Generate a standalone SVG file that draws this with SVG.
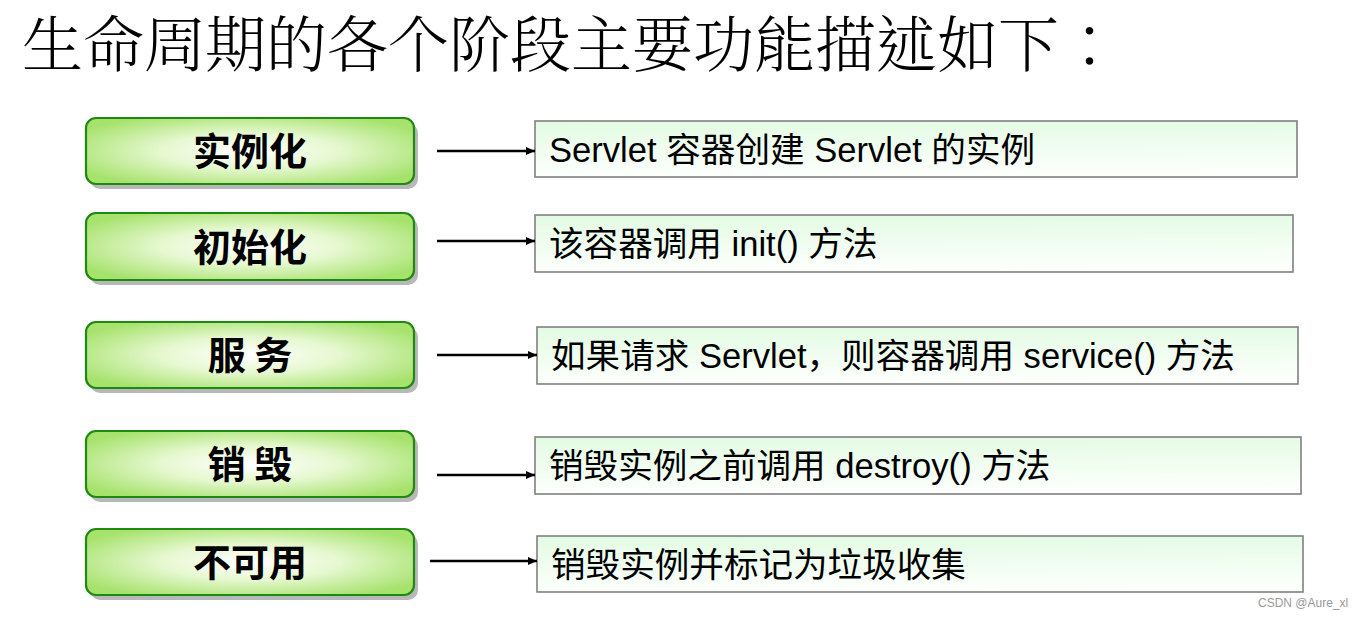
<svg xmlns="http://www.w3.org/2000/svg" width="1363" height="618" viewBox="0 0 1363 618">
<defs>
<radialGradient id="gl" cx="0.5" cy="0.5" r="0.6">
<stop offset="0" stop-color="#ffffff"/>
<stop offset="0.45" stop-color="#e6f8d0"/>
<stop offset="1" stop-color="#a6e26c"/>
</radialGradient>
<linearGradient id="gr" x1="0" y1="0" x2="0.1" y2="1">
<stop offset="0" stop-color="#e2fbe2"/>
<stop offset="1" stop-color="#fdfffd"/>
</linearGradient>
<marker id="ah" markerWidth="10" markerHeight="10" refX="9" refY="5" orient="auto" markerUnits="userSpaceOnUse">
<path d="M0,1 L9,5 L0,9 Z" fill="#000"/>
</marker>
</defs>
<style>
.shadow{fill:#b8b8b8;}
.lbox{fill:url(#gl);stroke:#1e8a12;stroke-width:2.2;}
.rbox{fill:url(#gr);stroke:#808080;stroke-width:1.6;}
.ltxt{font-family:"Noto Sans CJK SC",sans-serif;font-weight:bold;font-size:38px;fill:#000;text-anchor:middle;}
.rtxt{font-family:"Liberation Sans","Noto Sans CJK SC",sans-serif;font-size:34.6px;fill:#000;}
.title{font-family:"Liberation Serif","Noto Serif CJK TC","Noto Sans CJK TC",serif;font-size:61px;font-weight:300;fill:#000;}
.conn line{stroke:#000;stroke-width:2.5;marker-end:url(#ah);}
.wm{font-family:"Liberation Sans",sans-serif;font-size:12px;fill:#999;}
</style>
<rect width="1363" height="618" fill="#fff"/>
<text class="title" x="22" y="67">生命周期的各个阶段主要功能描述如下：</text>

<g id="n1">
<rect class="shadow" x="90" y="123" width="328" height="66" rx="10"/>
<rect class="lbox" x="86" y="118" width="328" height="66" rx="10"/>
<text class="ltxt" x="250" y="165">实例化</text>
</g>
<g id="n2">
<rect class="shadow" x="90" y="218" width="328" height="67" rx="10"/>
<rect class="lbox" x="86" y="213" width="328" height="67" rx="10"/>
<text class="ltxt" x="250" y="261">初始化</text>
</g>
<g id="n3">
<rect class="shadow" x="90" y="327" width="328" height="66" rx="10"/>
<rect class="lbox" x="86" y="322" width="328" height="66" rx="10"/>
<text class="ltxt" x="250" y="369">服 务</text>
</g>
<g id="n4">
<rect class="shadow" x="90" y="436" width="328" height="66" rx="10"/>
<rect class="lbox" x="86" y="431" width="328" height="66" rx="10"/>
<text class="ltxt" x="250" y="478">销 毁</text>
</g>
<g id="n5">
<rect class="shadow" x="90" y="534" width="328" height="66" rx="10"/>
<rect class="lbox" x="86" y="529" width="328" height="66" rx="10"/>
<text class="ltxt" x="250" y="576">不可用</text>
</g>

<g id="d1">
<rect class="rbox" x="535" y="121" width="762" height="56"/>
<text class="rtxt" x="549" y="162">Servlet 容器创建 Servlet 的实例</text>
</g>
<g id="d2">
<rect class="rbox" x="535" y="215" width="758" height="57"/>
<text class="rtxt" x="549" y="256">该容器调用 init() 方法</text>
</g>
<g id="d3">
<rect class="rbox" x="537" y="327" width="761" height="57"/>
<text class="rtxt" x="551" y="368">如果请求 Servlet，则容器调用 service() 方法</text>
</g>
<g id="d4">
<rect class="rbox" x="535" y="437" width="766" height="57"/>
<text class="rtxt" x="549" y="478">销毁实例之前调用 destroy() 方法</text>
</g>
<g id="d5">
<rect class="rbox" x="537" y="536" width="766" height="56"/>
<text class="rtxt" x="551" y="577">销毁实例并标记为垃圾收集</text>
</g>

<g id="connectors" class="conn">
<line x1="437" y1="151" x2="535" y2="151"/>
<line x1="437" y1="241" x2="535" y2="241"/>
<line x1="437" y1="355" x2="537" y2="355"/>
<line x1="437" y1="475" x2="535" y2="475"/>
<line x1="430" y1="561" x2="537" y2="561"/>
</g>
<text class="wm" x="1258" y="607">CSDN @Aure_xl</text>
</svg>
